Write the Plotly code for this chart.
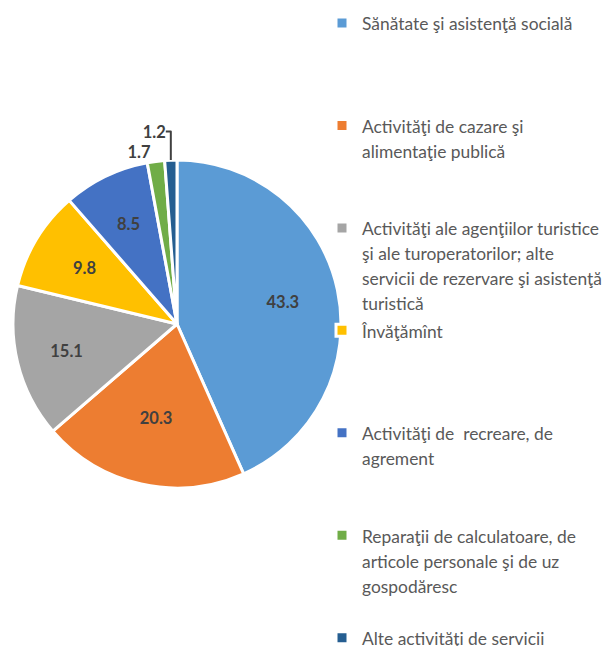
import plotly.graph_objects as go

categories = [
    ["Sănătate şi asistenţă socială"],
    ["Activităţi de cazare şi", "alimentaţie publică"],
    ["Activităţi ale agenţiilor turistice", "şi ale turoperatorilor; alte",
     "servicii de rezervare şi asistenţă", "turistică"],
    ["Învăţămînt"],
    ["Activităţi de  recreare, de", "agrement"],
    ["Reparaţii de calculatoare, de", "articole personale şi de uz", "gospodăresc"],
    ["Alte activităţi de servicii"],
]
values = [43.3, 20.3, 15.1, 9.8, 8.5, 1.7, 1.2]
colors = ["#5B9BD5", "#ED7D31", "#A5A5A5", "#FFC000", "#4472C4", "#70AD47", "#255E91"]
# which ring carries each value label: 0 = outside main pie, 1..3 = transparent label rings
label_ring = [1, 3, 2, 1, 1, 0, 0]

W, H = 604, 646
CX, CY, R = 177, 324, 164          # pie centre / radius in px
RING_R = {1: 141, 2: 148, 3: 125}  # radii of the transparent label rings
LINES_PER_ITEM = 4
TEXT_SIZE = 17.4
LEGEND_FONT = 19.13                # line spacing = 1.3 * this


def legend_label(lines, last):
    shown = ["<span style='font-size:%.1fpx'>%s</span>" % (TEXT_SIZE, l.replace("  ", "&nbsp; "))
             for l in lines]
    if not last:
        shown += ["&nbsp;"] * (LINES_PER_ITEM - len(lines))
    return "<br>".join(shown)


labels = [legend_label(c, i == len(categories) - 1) for i, c in enumerate(categories)]


def dom(r):
    return dict(x=[(CX - r) / W, (CX + r) / W], y=[1 - (CY + r) / H, 1 - (CY - r) / H])


label_font = dict(family="Lato", size=16.5, color="#404040", weight="bold")

# main pie: slices, legend and the outside labels of the small slices
fig = go.Figure(go.Pie(
    labels=labels,
    values=values,
    sort=False,
    direction="clockwise",
    rotation=0,
    marker=dict(colors=colors, line=dict(color="white", width=3)),
    texttemplate="%{value:.1f}",
    textposition=["outside" if k == 0 else "none" for k in label_ring],
    textfont=label_font,
    domain=dom(R),
    hoverinfo="skip",
))

# transparent rings carrying the inside labels (places them mid-slice)
for ring, rr in RING_R.items():
    fig.add_trace(go.Pie(
        labels=labels,
        values=values,
        sort=False,
        direction="clockwise",
        rotation=0,
        hole=0.535,
        marker=dict(colors=["rgba(0,0,0,0)"] * len(values), line=dict(width=0)),
        texttemplate="%{value:.1f}",
        textposition=["inside" if k == ring else "none" for k in label_ring],
        insidetextorientation="horizontal",
        textfont=label_font,
        domain=dom(rr),
        hoverinfo="skip",
        showlegend=False,
    ))

fig.update_layout(
    width=W, height=H,
    margin=dict(l=0, r=0, t=0, b=0, autoexpand=False),
    paper_bgcolor="white",
    plot_bgcolor="white",
    showlegend=True,
    legend=dict(
        x=322 / W, xanchor="left",
        y=1 - 4 / H, yanchor="top",
        valign="top",
        font=dict(family="Lato", size=LEGEND_FONT, color="#595959"),
        bgcolor="rgba(0,0,0,0)",
        borderwidth=0,
        tracegroupgap=0,
    ),
    font=dict(family="Lato"),
)
try:
    fig.update_layout(legend_maxheight=1000)
except ValueError:
    pass

fig.write_html("out.html", config={"displayModeBar": False},
               post_script="document.body.style.margin='0';")
